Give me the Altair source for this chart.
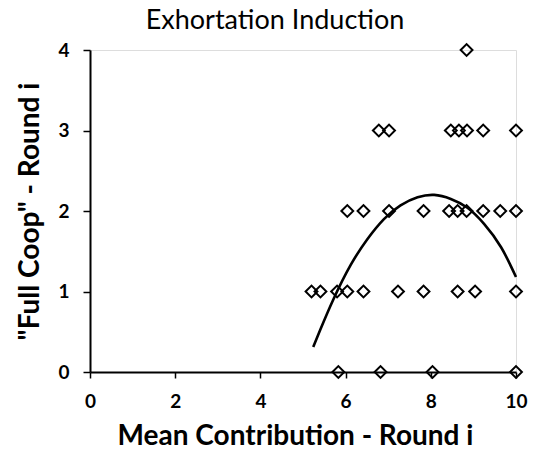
import altair as alt
import pandas as pd

x_vals = [8.84,
          6.78, 7.02, 8.47, 8.66, 8.85, 9.23, 10.0,
          6.04, 6.42, 7.02, 7.83, 8.43, 8.63, 8.84, 9.23, 9.63, 10.0,
          5.2, 5.41, 5.8, 6.04, 6.42, 7.23, 7.83, 8.63, 9.04, 10.0,
          5.83, 6.82, 8.04, 10.0]
y_vals = [4,
          3, 3, 3, 3, 3, 3, 3,
          2, 2, 2, 2, 2, 2, 2, 2, 2, 2,
          1, 1, 1, 1, 1, 1, 1, 1, 1, 1,
          0, 0, 0, 0]

# polynomial trendline
trend_x = [5.24, 5.41, 5.72, 6.12, 6.51, 6.90, 7.29, 7.69, 8.08, 8.47, 8.86, 9.25, 9.65, 10.0]
trend_y = [0.31, 0.53, 0.91, 1.33, 1.65, 1.90, 2.07, 2.17, 2.20, 2.15, 2.04, 1.84, 1.55, 1.18]

df = pd.DataFrame({"x": x_vals, "y": y_vals})
tdf = pd.DataFrame({"x": trend_x, "y": trend_y})

xscale = alt.Scale(domain=[0, 10], nice=False, zero=False)
yscale = alt.Scale(domain=[0, 4], nice=False, zero=False)

xaxis = alt.Axis(
    title="Mean Contribution - Round i", values=[0, 2, 4, 6, 8, 10], format="d", grid=False,
    labelFlush=False,
    domainColor="black", domainWidth=2, tickColor="black", tickWidth=1.5, tickSize=6,
    labelFont="Lato", labelFontWeight="bold", labelFontSize=19, labelColor="black", labelPadding=14,
    titleFont="Lato", titleFontWeight="bold", titleFontSize=28, titleColor="black",
    titleX=205, titleY=72, titleBaseline="alphabetic", titleAnchor="middle", titleAlign="center",
)
yaxis = alt.Axis(
    title='"Full Coop" - Round i', values=[0, 1, 2, 3, 4], format="d", grid=False,
    labelFlush=False,
    domainColor="black", domainWidth=2, tickColor="black", tickWidth=1.5, tickSize=7,
    labelFont="Lato", labelFontWeight="bold", labelFontSize=19, labelColor="black", labelPadding=14,
    titleFont="Lato", titleFontWeight="bold", titleFontSize=28, titleColor="black",
    titleX=-46, titleY=161, titleAngle=-90, titleBaseline="bottom", titleAlign="center",
)

points = alt.Chart(df).mark_point(
    shape="diamond", filled=False, stroke="black", strokeWidth=2, size=140, opacity=1
).encode(
    x=alt.X("x:Q", scale=xscale, axis=xaxis),
    y=alt.Y("y:Q", scale=yscale, axis=yaxis),
)

curve = alt.Chart(tdf).mark_line(color="black", strokeWidth=2.6, interpolate="natural").encode(
    x=alt.X("x:Q", scale=xscale),
    y=alt.Y("y:Q", scale=yscale),
)

chart = alt.layer(points, curve).properties(
    width=426, height=322,
    title=alt.TitleParams("Exhortation Induction", font="Lato", fontSize=27, fontWeight="normal",
                          color="black", anchor="middle", dx=-28, dy=18, offset=2, baseline="alphabetic"),
    autosize=alt.AutoSizeParams(type="none"),
    padding={"left": 90, "top": 50, "right": 17, "bottom": 81},
).configure_view(stroke=None).configure(background="white")

chart.save("out.html", embed_options={"renderer": "svg", "actions": False})
